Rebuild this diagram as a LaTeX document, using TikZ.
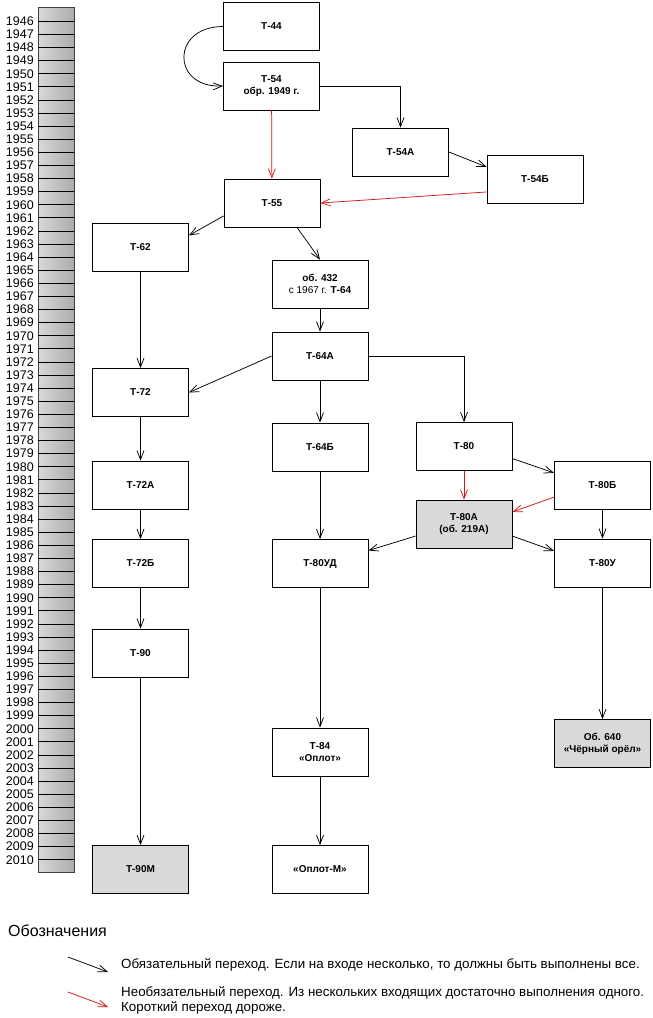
\documentclass[tikz,border=0pt]{standalone}
\usepackage{fontspec}
\setmainfont{Liberation Sans}
\usetikzlibrary{arrows.meta}
\definecolor{optred}{HTML}{D41818}
\definecolor{oldgray}{HTML}{D9D9D9}
\begin{document}
\begin{tikzpicture}[x=1pt, y=-1pt]
    \tikzstyle{tank} = [rectangle, draw, line width=0.8pt, minimum width=96pt, minimum height=48pt, inner sep=1pt, align=center, font=\bfseries\fontsize{10}{12}\selectfont]
    \tikzstyle{proto} = [tank, fill=oldgray]
    \tikzstyle{line} = [draw, line width=0.75pt, -{Straight Barb[length=9pt,width=7pt]}]
    \tikzstyle{alt} = [line, optred]
    \tikzstyle{year} = [anchor=east, inner sep=0pt, font=\fontsize{12.5}{12.5}\selectfont]
    \tikzstyle{note} = [anchor=west, inner sep=0pt, align=left, font=\fontsize{13.35}{15}\selectfont]

    \useasboundingbox (0,0) rectangle (653,1018);

    % year scale
    \shade[left color=gray!30, right color=gray!65] (38,7) rectangle (74,872);
    \draw[line width=0.8pt, black!75] (38,7) rectangle (74,872);
    \foreach \yr [count=\i from 0] in {1946,...,2010} {
        \node[year] (y\yr) at (34,21.3+13.1*\i) {\yr};
        \draw[line width=0.7pt] (38,21.3+13.1*\i) -- (74,21.3+13.1*\i);
    }

    % tanks
    \node[tank] (t44) at (271.5,26.5) {Т-44};
    \node[tank] (t54) at (271.5,86) {Т-54\\обр. 1949 г.};
    \node[tank] (t54a) at (400.5,152) {Т-54А};
    \node[tank] (t54b) at (535,179) {Т-54Б};
    \node[tank] (t55) at (272,203) {Т-55};
    \node[tank] (t62) at (140.5,247.5) {Т-62};
    \node[tank] (ob432) at (320,284) {об. 432\\\mdseries с 1967 г. \textbf{Т-64}};
    \node[tank] (t64a) at (320,356) {Т-64А};
    \node[tank] (t72) at (140.5,392.5) {Т-72};
    \node[tank] (t64b) at (320,447) {Т-64Б};
    \node[tank] (t80) at (464,446.5) {Т-80};
    \node[tank] (t80b) at (602.5,485) {Т-80Б};
    \node[proto] (t80a) at (464,524) {Т-80А\\(об. 219А)};
    \node[tank] (t80u) at (602.5,563) {Т-80У};
    \node[tank] (t72a) at (140.5,485) {Т-72А};
    \node[tank] (t72b) at (140.5,563.5) {Т-72Б};
    \node[tank] (t80ud) at (320,563.5) {Т-80УД};
    \node[tank] (t90) at (140.5,653) {Т-90};
    \node[proto] (ob640) at (602.5,743.5) {Об. 640\\«Чёрный орёл»};
    \node[tank] (t84) at (320,752) {Т-84\\«Оплот»};
    \node[tank] (oplotm) at (320,869.5) {«Оплот-М»};
    \node[proto] (t90m) at (140.5,869.5) {Т-90М};

    % transitions
    \draw[line] (t44.west) .. controls (171,26.5) and (171,88) .. (t54.west);
    \draw[line] (t54.east) -| (t54a.north);
    \draw[alt] (t54) -- (t55);
    \draw[line] (t54a.east) -- (t54b.166);
    \draw[alt] (t54b.195) -- (t55.east);
    \draw[line] (t55.195) -- (t62.14);
    \draw[line] ([xshift=25pt]t55.south) -- (ob432.north);
    \draw[line] (t62) -- (t72);
    \draw[line] (ob432) -- (t64a);
    \draw[line] (t64a.west) -- (t72.east);
    \draw[line] (t64a) -- (t64b);
    \draw[line] (t64a.east) -| (t80.north);
    \draw[line] (t72) -- (t72a);
    \draw[line] (t72a) -- (t72b);
    \draw[line] (t72b) -- (t90);
    \draw[line] (t90) -- (t90m);
    \draw[line] (t64b) -- (t80ud);
    \draw[alt] (t80) -- (t80a);
    \draw[line] (t80.-14) -- (t80b.166);
    \draw[alt] (t80b.194) -- (t80a.14);
    \draw[line] (t80a.194) -- (t80ud.15);
    \draw[line] (t80a.-14) -- (t80u.166);
    \draw[line] (t80b) -- (t80u);
    \draw[line] (t80u) -- (ob640);
    \draw[line] (t80ud) -- (t84);
    \draw[line] (t84) -- (oplotm);

    % legend
    \node[anchor=west, inner sep=0pt, font=\fontsize{16}{16}\selectfont] (legend) at (8,931) {Обозначения};
    \coordinate (m1) at (68,957);
    \coordinate (m2) at (108,972);
    \draw[line] (m1) -- (m2);
    \node[note] (mtext) at (121,965) {Обязательный переход. Если на входе несколько, то должны быть выполнены все.};
    \coordinate (o1) at (68,992);
    \coordinate (o2) at (108,1007);
    \draw[alt] (o1) -- (o2);
    \node[note] (otext) at (121,1000.5) {Необязательный переход. Из нескольких входящих достаточно выполнения одного.\\Короткий переход дороже.};
\end{tikzpicture}
\end{document}
